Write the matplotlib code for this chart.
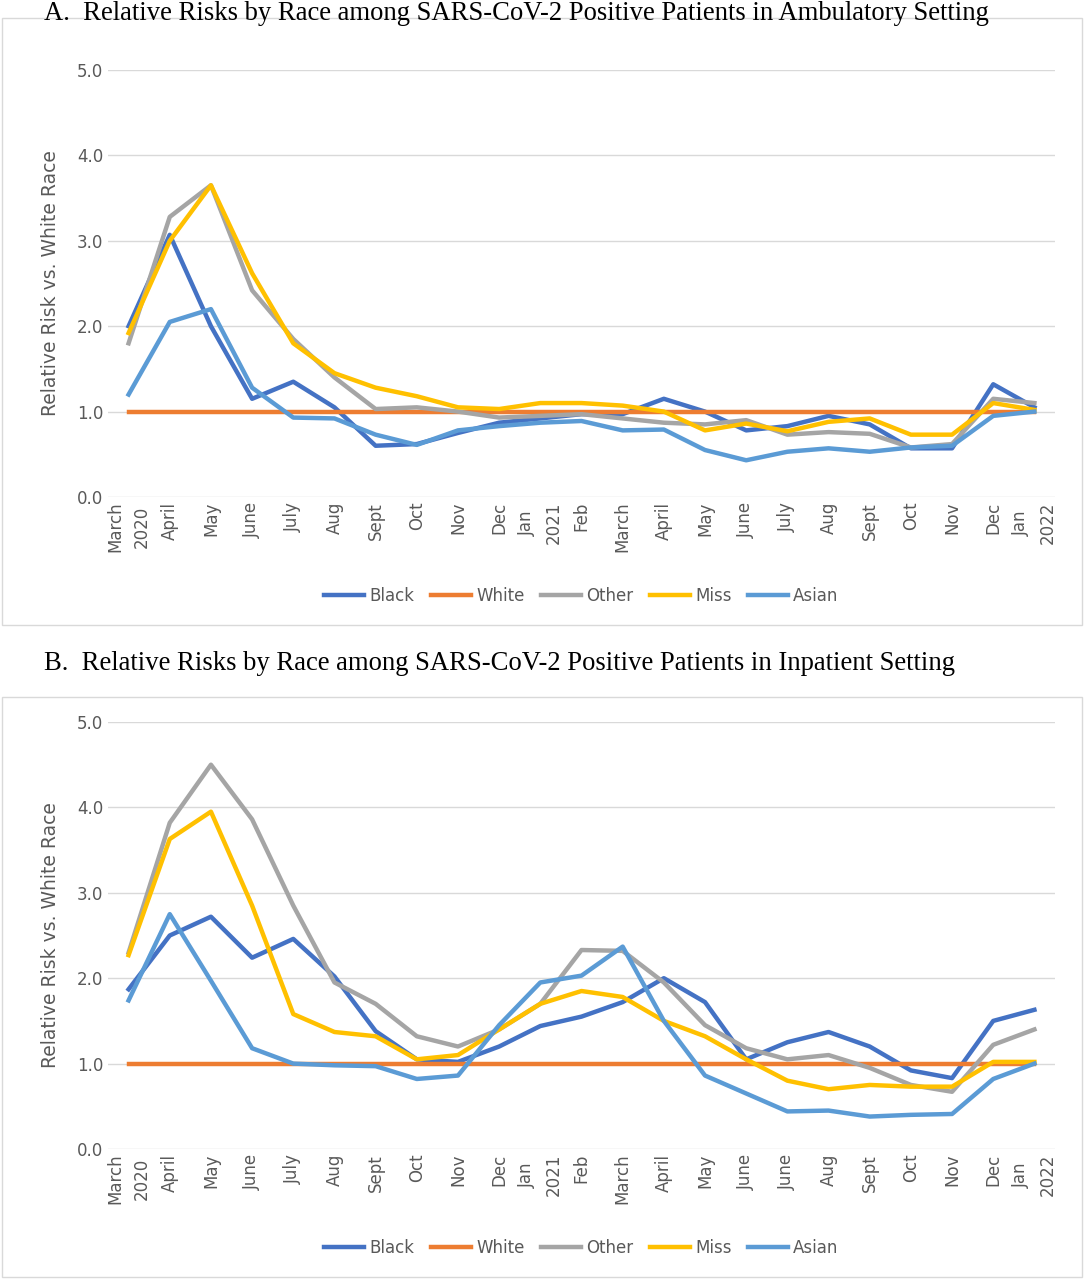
import matplotlib
matplotlib.use("Agg")
import matplotlib.pyplot as plt
from matplotlib.patches import Rectangle

labels_a = ["March\n2020","April","May","June","July","Aug","Sept","Oct","Nov","Dec","Jan\n2021","Feb",
            "March","April","May","June","July","Aug","Sept","Oct","Nov","Dec","Jan\n2022"]
labels_b = ["March\n2020","April","May","June","July","Aug","Sept","Oct","Nov","Dec","Jan\n2021","Feb",
            "March","April","May","June","June","Aug","Sept","Oct","Nov","Dec","Jan\n2022"]

a_black = [2.0,3.07,2.0,1.15,1.35,1.05,0.6,0.62,0.75,0.87,0.92,0.97,0.97,1.15,1.0,0.78,0.83,0.95,0.85,0.57,0.57,1.32,1.05]
a_white = [1.0]*23
a_other = [1.8,3.28,3.65,2.42,1.85,1.4,1.03,1.05,1.0,0.93,0.95,0.97,0.92,0.87,0.85,0.9,0.73,0.76,0.74,0.58,0.62,1.15,1.1]
a_miss = [1.92,3.0,3.65,2.62,1.8,1.45,1.28,1.18,1.05,1.03,1.1,1.1,1.07,1.0,0.78,0.86,0.77,0.88,0.92,0.73,0.73,1.1,1.02]
a_asian = [1.2,2.05,2.2,1.28,0.93,0.92,0.73,0.61,0.78,0.83,0.87,0.89,0.78,0.79,0.55,0.43,0.53,0.57,0.53,0.58,0.6,0.95,1.0]

b_black = [1.87,2.5,2.72,2.24,2.46,2.02,1.38,1.05,1.02,1.2,1.44,1.55,1.72,2.0,1.72,1.05,1.25,1.37,1.2,0.92,0.83,1.5,1.63]
b_white = [1.0]*23
b_other = [2.3,3.82,4.5,3.86,2.85,1.95,1.7,1.32,1.2,1.4,1.7,2.33,2.32,1.95,1.45,1.18,1.05,1.1,0.95,0.75,0.67,1.22,1.4]
b_miss = [2.27,3.63,3.95,2.85,1.58,1.37,1.32,1.05,1.1,1.4,1.7,1.85,1.78,1.5,1.32,1.05,0.8,0.7,0.75,0.73,0.73,1.02,1.02]
b_asian = [1.74,2.75,1.97,1.18,1.0,0.98,0.97,0.82,0.86,1.45,1.95,2.03,2.37,1.5,0.86,0.65,0.44,0.45,0.38,0.4,0.41,0.82,1.0]

names = ["Black","White","Other","Miss","Asian"]
colors = ["#4472C4","#ED7D31","#A5A5A5","#FFC000","#5B9BD5"]

fig = plt.figure(figsize=(10.84,12.8), dpi=100)
W, H = 1084, 1280

def panel(top_px, bot_px, box_top, box_bot, title, title_y, labels, series, leg_y):
    fig.patches.append(Rectangle((2/W, 1-box_bot/H), 1080/W, (box_bot-box_top)/H,
                                 transform=fig.transFigure, fill=False, ec="#D9D9D9", lw=1))
    fig.text(44/W, 1-title_y/H, title, fontsize=19.2, family="Liberation Serif", va="center")
    ax = fig.add_axes([108/W, 1-bot_px/H, 947/W, (bot_px-top_px)/H])
    x = list(range(len(labels)))
    for s, n, c in zip(series, names, colors):
        ax.plot(x, s, color=c, lw=3.2, label=n)
    ax.set_xlim(-0.5, 22.5)
    ax.set_ylim(0, 5)
    ax.set_yticks([0,1,2,3,4,5])
    ax.set_yticklabels([f"{v:.1f}" for v in range(6)])
    ax.set_xticks(x)
    ax.set_xticklabels(labels, rotation=90, va="top", ha="center", linespacing=1.6)
    ax.tick_params(colors="#595959", labelsize=12, length=0)
    ax.grid(axis="y", color="#D9D9D9", lw=1)
    ax.set_axisbelow(True)
    for sp in ax.spines.values():
        sp.set_visible(False)
    ax.set_ylabel("Relative Risk vs. White Race", color="#595959", fontsize=13.5, labelpad=12)
    ax.legend(loc="center", bbox_to_anchor=(0.5, (bot_px-leg_y)/(bot_px-top_px)), ncol=5,
              frameon=False, fontsize=12, labelcolor="#595959", handlelength=2.4,
              columnspacing=1.0, handletextpad=0.3)
    return ax

panel(70, 497, 18, 625, "A.  Relative Risks by Race among SARS-CoV-2 Positive Patients in Ambulatory Setting", 13,
      labels_a, [a_black,a_white,a_other,a_miss,a_asian], 596)
panel(722, 1149, 697, 1277, "B.  Relative Risks by Race among SARS-CoV-2 Positive Patients in Inpatient Setting", 664,
      labels_b, [b_black,b_white,b_other,b_miss,b_asian], 1248)

fig.savefig("out.png", dpi=100)
